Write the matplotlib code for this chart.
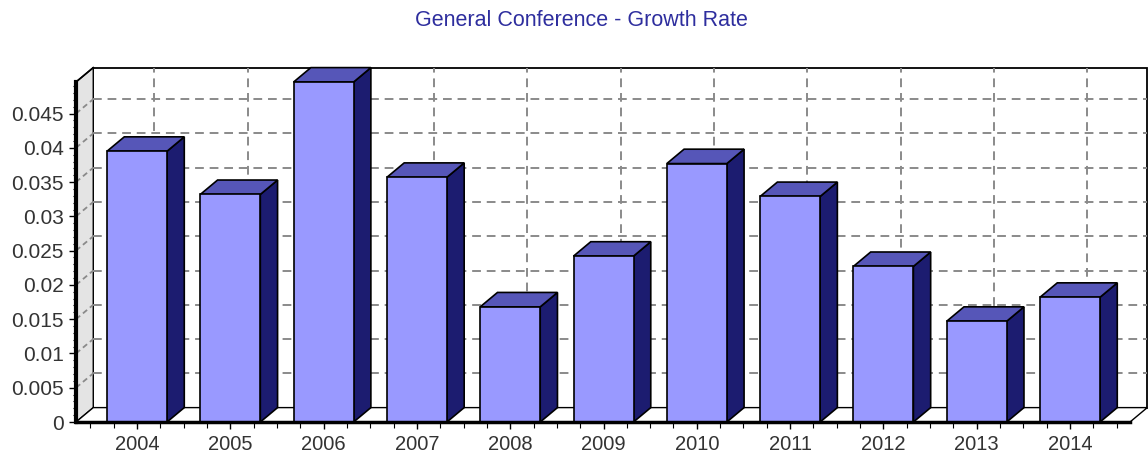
import numpy as np
import matplotlib.pyplot as plt
from matplotlib.patches import Polygon

# --- data ---
years = ["2004", "2005", "2006", "2007", "2008", "2009", "2010", "2011", "2012", "2013", "2014"]
growth = [0.0395, 0.0332, 0.0496, 0.0357, 0.0168, 0.0242, 0.0377, 0.0329, 0.0227, 0.0147, 0.0182]
ytick_vals = [0, 0.005, 0.01, 0.015, 0.02, 0.025, 0.03, 0.035, 0.04, 0.045]
ytick_text = ["0", "0.005", "0.01", "0.015", "0.02", "0.025", "0.03", "0.035", "0.04", "0.045"]
title = "General Conference - Growth Rate"

# --- style ---
FRONT = "#9999FF"
TOP = "#5656B8"
SIDE = "#1C1C70"
GRID = "#8a8a8a"
WALL = "#e4e4e4"
TXT = "#333333"

plt.rcParams["font.family"] = ["Liberation Sans", "DejaVu Sans"]

fig = plt.figure(figsize=(11.48, 4.55), dpi=100)
ax = fig.add_axes([76 / 1148, 33 / 455, 1054 / 1148, 340 / 455])

x = np.arange(len(years))
XMIN, XMAX = -0.654, 10.643
YMAX = 0.0496
DX, DY = 0.185, 0.0021   # depth offset of the pseudo-3D box
W = 0.643                # bar width

ax.set_xlim(XMIN, XMAX)
ax.set_ylim(0, YMAX)
for s in ax.spines.values():
    s.set_visible(False)

# back wall
back = Polygon([(XMIN + DX, DY), (XMAX + DX, DY), (XMAX + DX, YMAX + DY), (XMIN + DX, YMAX + DY)],
               closed=True, facecolor="white", edgecolor="black", lw=1.3, clip_on=False, zorder=1)
ax.add_patch(back)
# left wall
left = Polygon([(XMIN, 0), (XMIN + DX, DY), (XMIN + DX, YMAX + DY), (XMIN, YMAX)],
               closed=True, facecolor=WALL, edgecolor="black", lw=1.0, clip_on=False, zorder=1)
ax.add_patch(left)
# floor
floor = Polygon([(XMIN, 0), (XMAX, 0), (XMAX + DX, DY), (XMIN + DX, DY)],
                closed=True, facecolor="white", edgecolor="black", lw=1.0, clip_on=False, zorder=1)
ax.add_patch(floor)

# grid on back wall and left wall
for t in ytick_vals[1:]:
    ax.plot([XMIN + DX, XMAX + DX], [t + DY, t + DY], color=GRID, lw=1.4,
            ls=(0, (4.5, 3)), clip_on=False, zorder=2)
    ax.plot([XMIN, XMIN + DX], [t, t + DY], color=GRID, lw=1.3,
            ls=(0, (3, 2)), clip_on=False, zorder=2)
for xi in x:
    ax.plot([xi + DX, xi + DX], [DY, YMAX + DY], color=GRID, lw=1.4,
            ls=(0, (4.5, 3)), clip_on=False, zorder=2)

# bars
for xi, v in zip(x, growth):
    x0, x1 = xi - W / 2, xi + W / 2
    ax.add_patch(Polygon([(x1, 0), (x1 + DX, DY), (x1 + DX, v + DY), (x1, v)], closed=True,
                         facecolor=SIDE, edgecolor="black", lw=1.2, clip_on=False, zorder=4))
    ax.add_patch(Polygon([(x0, v), (x1, v), (x1 + DX, v + DY), (x0 + DX, v + DY)], closed=True,
                         facecolor=TOP, edgecolor="black", lw=1.2, clip_on=False, zorder=4))
    ax.add_patch(Polygon([(x0, 0), (x1, 0), (x1, v), (x0, v)], closed=True,
                         facecolor=FRONT, edgecolor="black", lw=1.2, clip_on=False, zorder=5))

# front axis lines
ax.plot([XMIN, XMIN], [0, YMAX], color="black", lw=3, clip_on=False, zorder=6)
ax.plot([XMIN, XMAX], [0, 0], color="black", lw=2.5, clip_on=False, zorder=6)
ax.plot([XMIN, XMIN + DX], [YMAX, YMAX + DY], color="black", lw=1.2, clip_on=False, zorder=6)

# ticks
ax.set_yticks(ytick_vals, ytick_text)
ax.set_yticks(np.arange(0, 0.0496, 0.001), minor=True)
ax.set_xticks(x, years)
ax.set_xticks(np.arange(-0.5, 10.6, 0.25), minor=True)
ax.tick_params(axis="both", which="major", length=5, width=1, color="black",
               labelsize=15, labelcolor=TXT)
ax.tick_params(axis="y", which="major", pad=4)
ax.tick_params(axis="x", which="major", pad=4, labelsize=14.5)
ax.tick_params(axis="y", which="minor", length=2, width=0.8)
ax.tick_params(axis="x", which="minor", length=4, width=0.8)

fig.text(581 / 1148, 1 - 20 / 455, title, ha="center", va="center",
         fontsize=15.5, color="#2E2E9E")

fig.savefig("out.png", dpi=100)
